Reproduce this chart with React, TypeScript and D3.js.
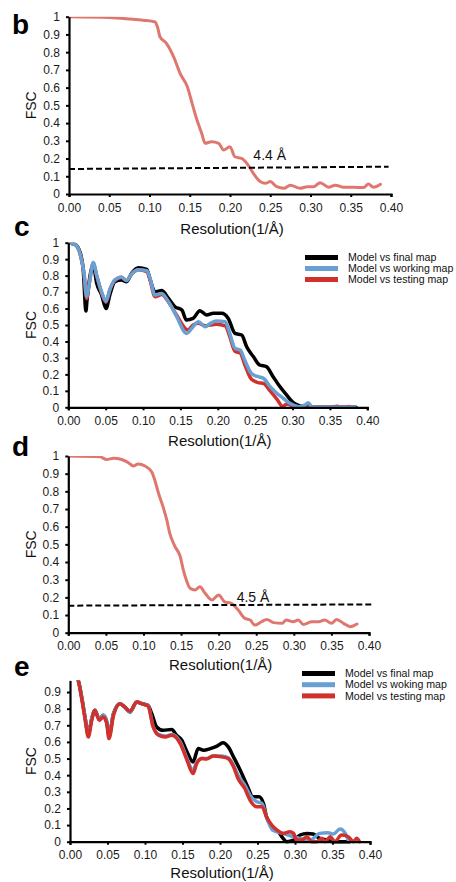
import React, { useEffect, useRef } from 'react';
import * as d3 from 'd3';

type Pt = [number, number];

// resolution (1/Å), FSC
const bCurve: Pt[] = [
  [0, 1], [0.05, 0.996], [0.076, 0.987], [0.092, 0.98], [0.107, 0.97], [0.11, 0.94],
  [0.113, 0.887], [0.121, 0.85], [0.13, 0.774], [0.138, 0.68], [0.147, 0.605], [0.153, 0.51],
  [0.159, 0.417], [0.165, 0.34], [0.169, 0.286], [0.177, 0.295], [0.186, 0.286], [0.192, 0.248],
  [0.2, 0.267], [0.206, 0.21], [0.215, 0.2], [0.221, 0.173], [0.229, 0.117], [0.2375, 0.07],
  [0.244, 0.06], [0.25, 0.07], [0.258, 0.041], [0.267, 0.032], [0.275, 0.05], [0.287, 0.032],
  [0.296, 0.041], [0.304, 0.041], [0.312, 0.064], [0.3225, 0.038], [0.331, 0.05], [0.341, 0.038],
  [0.354, 0.038], [0.366, 0.036], [0.372, 0.056], [0.378, 0.038], [0.387, 0.055],
];
const bThreshold: Pt[] = [[0, 0.141], [0.397, 0.154]];
const bLabel = '4.4 Å';

const cFinal: Pt[] = [
  [0, 1], [0.009, 0.99], [0.0156, 0.943], [0.02, 0.834], [0.0236, 0.585], [0.025, 0.65],
  [0.0334, 0.864], [0.038, 0.753], [0.0446, 0.682], [0.0504, 0.6], [0.056, 0.69], [0.0624, 0.763],
  [0.071, 0.773], [0.078, 0.763], [0.0847, 0.814], [0.0936, 0.848], [0.105, 0.838], [0.109, 0.783],
  [0.116, 0.702], [0.125, 0.709], [0.134, 0.662], [0.1427, 0.611], [0.152, 0.591], [0.158, 0.53],
  [0.167, 0.54], [0.176, 0.587], [0.185, 0.561], [0.194, 0.571], [0.205, 0.571], [0.214, 0.54],
  [0.223, 0.449], [0.232, 0.439], [0.2386, 0.368], [0.2475, 0.308], [0.256, 0.257], [0.265, 0.247],
  [0.274, 0.186], [0.283, 0.126], [0.292, 0.075], [0.301, 0.028], [0.308, 0.012], [0.319, 0.004],
  [0.337, 0], [0.385, 0],
];
const cWorking: Pt[] = [
  [0, 1], [0.009, 0.99], [0.0156, 0.935], [0.021, 0.814], [0.0245, 0.672], [0.028, 0.75],
  [0.0334, 0.88], [0.038, 0.8], [0.0446, 0.7], [0.0504, 0.645], [0.056, 0.72], [0.0624, 0.775],
  [0.071, 0.79], [0.078, 0.77], [0.0847, 0.81], [0.0936, 0.835], [0.105, 0.83], [0.109, 0.79],
  [0.116, 0.682], [0.125, 0.692], [0.134, 0.642], [0.145, 0.551], [0.158, 0.449], [0.167, 0.49],
  [0.174, 0.52], [0.183, 0.49], [0.19, 0.51], [0.198, 0.524], [0.21, 0.52], [0.216, 0.449],
  [0.223, 0.358], [0.23, 0.348], [0.236, 0.287], [0.245, 0.206], [0.254, 0.186], [0.261, 0.176],
  [0.27, 0.126], [0.279, 0.085], [0.2876, 0.055], [0.2965, 0.024], [0.308, 0.004], [0.3166, 0.014],
  [0.321, 0.028], [0.3255, 0.004], [0.337, 0], [0.3835, 0],
];
const cTesting: Pt[] = [
  [0, 1], [0.009, 0.99], [0.0156, 0.935], [0.021, 0.814], [0.0245, 0.66], [0.028, 0.75],
  [0.0334, 0.875], [0.038, 0.8], [0.0446, 0.695], [0.0504, 0.64], [0.056, 0.72], [0.0624, 0.77],
  [0.071, 0.79], [0.078, 0.77], [0.0847, 0.81], [0.0936, 0.835], [0.105, 0.825], [0.109, 0.78],
  [0.116, 0.672], [0.125, 0.685], [0.134, 0.64], [0.145, 0.56], [0.16, 0.47], [0.167, 0.5],
  [0.174, 0.51], [0.183, 0.495], [0.19, 0.5], [0.198, 0.505], [0.21, 0.495], [0.216, 0.43],
  [0.223, 0.34], [0.23, 0.33], [0.236, 0.26], [0.245, 0.17], [0.254, 0.15], [0.261, 0.145],
  [0.27, 0.1], [0.279, 0.05], [0.287, 0.005], [0.292, 0.02], [0.297, 0.015], [0.302, 0],
  [0.315, 0], [0.35, 0], [0.36, 0.006], [0.365, 0], [0.375, 0.005], [0.38, 0],
];

const dCurve: Pt[] = [
  [0, 1], [0.042, 0.996], [0.051, 0.98], [0.06, 0.987], [0.071, 0.98], [0.08, 0.962],
  [0.0865, 0.943], [0.093, 0.955], [0.102, 0.943], [0.111, 0.91], [0.115, 0.864], [0.12, 0.789],
  [0.126, 0.713], [0.131, 0.638], [0.135, 0.562], [0.142, 0.487], [0.149, 0.43], [0.153, 0.355],
  [0.157, 0.298], [0.162, 0.251], [0.1685, 0.2415], [0.175, 0.26], [0.182, 0.223], [0.191, 0.185],
  [0.2, 0.213], [0.208, 0.175], [0.217, 0.166], [0.226, 0.128], [0.235, 0.081], [0.242, 0.072],
  [0.248, 0.043], [0.257, 0.062], [0.264, 0.075], [0.273, 0.057], [0.284, 0.053], [0.29, 0.072],
  [0.299, 0.062], [0.306, 0.072], [0.3125, 0.047], [0.324, 0.062], [0.333, 0.062], [0.341, 0.072],
  [0.35, 0.053], [0.357, 0.075], [0.366, 0.053], [0.375, 0.034], [0.384, 0.049],
];
const dThreshold: Pt[] = [[0, 0.153], [0.406, 0.16]];
const dLabel = '4.5 Å';

const eFinal: Pt[] = [
  [0, 1.05], [0.011, 0.97], [0.0156, 0.87], [0.02, 0.75], [0.0244, 0.65], [0.029, 0.74],
  [0.033, 0.79], [0.039, 0.74], [0.0444, 0.76], [0.049, 0.72], [0.052, 0.64], [0.058, 0.77],
  [0.0667, 0.83], [0.073, 0.81], [0.08, 0.78], [0.089, 0.84], [0.0956, 0.83], [0.104, 0.82],
  [0.109, 0.77], [0.1156, 0.69], [0.124, 0.67], [0.1356, 0.675], [0.142, 0.64], [0.149, 0.61],
  [0.156, 0.54], [0.164, 0.48], [0.171, 0.56], [0.178, 0.55], [0.187, 0.56], [0.196, 0.575],
  [0.204, 0.595], [0.211, 0.57], [0.218, 0.51], [0.227, 0.43], [0.236, 0.34], [0.244, 0.27],
  [0.252, 0.27], [0.258, 0.23], [0.262, 0.15], [0.269, 0.09], [0.278, 0.06], [0.284, 0.02],
  [0.289, 0], [0.298, 0.01], [0.307, 0.04], [0.316, 0.05], [0.324, 0.046], [0.333, 0.02],
  [0.342, 0.01], [0.351, 0], [0.373, 0],
];
const eWorking: Pt[] = [
  [0, 1.05], [0.011, 0.97], [0.0156, 0.87], [0.02, 0.75], [0.0244, 0.645], [0.029, 0.74],
  [0.033, 0.79], [0.039, 0.74], [0.0444, 0.76], [0.049, 0.72], [0.052, 0.63], [0.058, 0.77],
  [0.0667, 0.83], [0.073, 0.81], [0.08, 0.78], [0.089, 0.84], [0.0956, 0.83], [0.104, 0.82],
  [0.111, 0.69], [0.118, 0.645], [0.127, 0.635], [0.1356, 0.645], [0.147, 0.6], [0.156, 0.5],
  [0.164, 0.43], [0.169, 0.48], [0.176, 0.5], [0.182, 0.5], [0.191, 0.515], [0.202, 0.515],
  [0.211, 0.505], [0.218, 0.46], [0.224, 0.4], [0.233, 0.34], [0.24, 0.28], [0.249, 0.24],
  [0.256, 0.23], [0.262, 0.15], [0.27, 0.07], [0.284, 0.05], [0.298, 0.03], [0.307, 0.02],
  [0.32, 0.01], [0.333, 0.05], [0.344, 0.054], [0.351, 0.046], [0.36, 0.076], [0.367, 0.05],
  [0.371, 0.01],
];
const eTesting: Pt[] = [
  [0, 1.05], [0.011, 0.97], [0.0156, 0.86], [0.02, 0.74], [0.0244, 0.63], [0.029, 0.73],
  [0.033, 0.79], [0.039, 0.73], [0.0444, 0.75], [0.049, 0.71], [0.052, 0.62], [0.058, 0.76],
  [0.0667, 0.83], [0.073, 0.81], [0.08, 0.785], [0.089, 0.84], [0.0956, 0.83], [0.104, 0.815],
  [0.111, 0.69], [0.118, 0.64], [0.127, 0.63], [0.1356, 0.64], [0.147, 0.59], [0.156, 0.49],
  [0.164, 0.41], [0.169, 0.47], [0.176, 0.5], [0.182, 0.497], [0.191, 0.515], [0.202, 0.51],
  [0.211, 0.5], [0.218, 0.45], [0.224, 0.38], [0.233, 0.32], [0.24, 0.25], [0.249, 0.21],
  [0.256, 0.21], [0.262, 0.15], [0.269, 0.1], [0.276, 0.07], [0.284, 0.05], [0.293, 0.06],
  [0.298, 0.05], [0.302, 0.01], [0.309, 0.01], [0.316, 0.03], [0.322, 0], [0.329, 0],
  [0.336, 0.02], [0.34, 0], [0.347, 0.03], [0.353, 0], [0.362, 0.04], [0.371, 0.03],
  [0.378, 0], [0.382, 0.02], [0.386, 0],
];

const xTicks = [0, 0.05, 0.1, 0.15, 0.2, 0.25, 0.3, 0.35, 0.4];
const yTicks = [0, 0.1, 0.2, 0.3, 0.4, 0.5, 0.6, 0.7, 0.8, 0.9, 1];
const legendLabelsC = ['Model vs final map', 'Model vs working map', 'Model vs testing map'];
const legendLabelsE = ['Model vs final map', 'Model vs woking map', 'Model vs testing map'];

const SALMON = '#e0776f';
const BLACK = '#000000';
const BLUE = '#68a0d3';
const RED = '#d2302b';
const FONT = '"Liberation Sans", Arial, Helvetica, sans-serif';

interface Series { data: Pt[]; color: string; width: number; }
interface PanelCfg {
  id: string;
  letter: string;
  left: number; right: number; top: number; bottom: number;
  yMax: number;
  yTickVals: number[];
  series: Series[];
  threshold?: Pt[];
  thresholdLabel?: string;
  labelAt?: Pt;
  legend?: { labels: string[]; colors: string[]; x: number; y: number; gap: number };
  letterPos: Pt;
  titleY: number;
}

const panels: PanelCfg[] = [
  {
    id: 'b', letter: 'b', left: 69, right: 391, top: 16.7, bottom: 194, yMax: 1,
    yTickVals: yTicks,
    series: [{ data: bCurve, color: SALMON, width: 3 }],
    threshold: bThreshold, thresholdLabel: bLabel, labelAt: [0.229, 0.19],
    letterPos: [12, 34], titleY: 234,
  },
  {
    id: 'c', letter: 'c', left: 68.3, right: 367.3, top: 242.7, bottom: 407.3, yMax: 1,
    yTickVals: yTicks,
    series: [
      { data: cFinal, color: BLACK, width: 3.5 },
      { data: cTesting, color: RED, width: 3.5 },
      { data: cWorking, color: BLUE, width: 3.5 },
    ],
    legend: { labels: legendLabelsC, colors: [BLACK, BLUE, RED], x: 305, y: 257.5, gap: 11 },
    letterPos: [14, 236], titleY: 446,
  },
  {
    id: 'd', letter: 'd', left: 68.3, right: 369, top: 456, bottom: 632.7, yMax: 1,
    yTickVals: yTicks,
    series: [{ data: dCurve, color: SALMON, width: 3 }],
    threshold: dThreshold, thresholdLabel: dLabel, labelAt: [0.224, 0.172],
    letterPos: [12, 456], titleY: 670,
  },
  {
    id: 'e', letter: 'e', left: 70, right: 370, top: 680.4, bottom: 841.7, yMax: 0.97,
    yTickVals: yTicks.slice(0, 10),
    series: [
      { data: eFinal, color: BLACK, width: 3.5 },
      { data: eWorking, color: BLUE, width: 3.5 },
      { data: eTesting, color: RED, width: 3.5 },
    ],
    legend: { labels: legendLabelsE, colors: [BLACK, BLUE, RED], x: 302, y: 673.5, gap: 11.2 },
    letterPos: [14, 676], titleY: 878,
  },
];

function Panel({ cfg }: { cfg: PanelCfg }) {
  const ref = useRef<SVGGElement>(null);

  useEffect(() => {
    const g = d3.select(ref.current);
    g.selectAll('*').remove();

    const x = d3.scaleLinear().domain([0, 0.4]).range([cfg.left, cfg.right]);
    const y = d3.scaleLinear().domain([0, cfg.yMax]).range([cfg.bottom, cfg.top]);

    const clipId = `clip-${cfg.id}`;
    g.append('clipPath').attr('id', clipId)
      .append('rect')
      .attr('x', cfg.left).attr('y', cfg.top)
      .attr('width', cfg.right - cfg.left + 20)
      .attr('height', cfg.bottom - cfg.top + 3);

    // curves
    const line = d3.line<Pt>()
      .x(d => x(d[0]))
      .y(d => y(d[1]))
      .curve(d3.curveMonotoneX);

    const curves = g.append('g').attr('clip-path', `url(#${clipId})`);
    cfg.series.forEach(s => {
      curves.append('path')
        .datum(s.data)
        .attr('fill', 'none')
        .attr('stroke', s.color)
        .attr('stroke-width', s.width)
        .attr('stroke-linejoin', 'round')
        .attr('stroke-linecap', 'round')
        .attr('d', line);
    });

    // threshold
    if (cfg.threshold) {
      g.append('path')
        .datum(cfg.threshold)
        .attr('fill', 'none')
        .attr('stroke', '#000')
        .attr('stroke-width', 2)
        .attr('stroke-dasharray', '6,3')
        .attr('d', d3.line<Pt>().x(d => x(d[0])).y(d => y(d[1])));
      const [lx, ly] = cfg.labelAt as Pt;
      g.append('text')
        .attr('x', x(lx)).attr('y', y(ly))
        .attr('font-size', 14)
        .attr('fill', '#111')
        .text(cfg.thresholdLabel as string);
    }

    // axes
    const xAxis = g.append('g')
      .attr('transform', `translate(0,${cfg.bottom})`)
      .call(d3.axisBottom(x).tickValues(xTicks).tickSize(3).tickSizeOuter(3).tickPadding(6)
        .tickFormat(d => d3.format('.2f')(d as number)));
    const yAxis = g.append('g')
      .attr('transform', `translate(${cfg.left},0)`)
      .call(d3.axisLeft(y).tickValues(cfg.yTickVals).tickSize(3).tickSizeOuter(0).tickPadding(6)
        .tickFormat(d => String(+(d as number).toFixed(1))));
    [xAxis, yAxis].forEach(ax => {
      ax.select('.domain').attr('stroke', '#000').attr('stroke-width', 2.2);
      ax.selectAll('.tick line').attr('stroke', '#000').attr('stroke-width', 2);
      ax.selectAll('text')
        .attr('font-size', 12)
        .attr('font-family', FONT)
        .attr('fill', '#1a1a1a');
    });

    // axis titles
    g.append('text')
      .attr('x', (cfg.left + cfg.right) / 2 + 2)
      .attr('y', cfg.titleY)
      .attr('text-anchor', 'middle')
      .attr('font-size', 15)
      .attr('fill', '#111')
      .text('Resolution(1/Å)');
    g.append('text')
      .attr('transform', `translate(36,${(cfg.top + cfg.bottom) / 2}) rotate(-90)`)
      .attr('text-anchor', 'middle')
      .attr('font-size', 14)
      .attr('fill', '#111')
      .text('FSC');

    // panel letter
    g.append('text')
      .attr('x', cfg.letterPos[0]).attr('y', cfg.letterPos[1])
      .attr('font-size', 28)
      .attr('font-weight', 'bold')
      .attr('fill', '#000')
      .text(cfg.letter);

    // legend
    if (cfg.legend) {
      const lg = cfg.legend;
      lg.labels.forEach((lab, i) => {
        const yy = lg.y + i * lg.gap;
        g.append('rect')
          .attr('x', lg.x).attr('y', yy - 2.5)
          .attr('width', 33).attr('height', 5)
          .attr('fill', lg.colors[i]);
        g.append('text')
          .attr('x', lg.x + 43).attr('y', yy + 3.7)
          .attr('font-size', 10.6)
          .attr('fill', '#111')
          .text(lab);
      });
    }
  }, [cfg]);

  return <g ref={ref} />;
}

export default function App() {
  return (
    <div style={{ position: 'absolute', left: 0, top: 0, background: '#fff' }}>
      <svg width={456} height={882} style={{ display: 'block', fontFamily: FONT }}>
        <rect width={456} height={882} fill="#fff" />
        {panels.map(p => <Panel key={p.id} cfg={p} />)}
      </svg>
    </div>
  );
}
